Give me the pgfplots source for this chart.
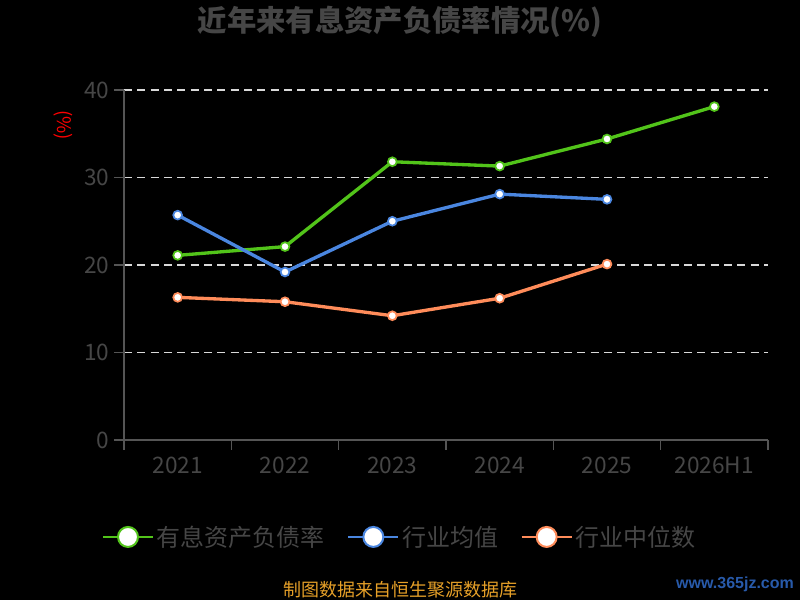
\documentclass[border=0pt]{standalone}
\usepackage{fontspec}
\setmainfont{Noto Sans CJK SC}
\newfontfamily\wmfont{Liberation Sans}
\usepackage{pgfplots}
\pgfplotsset{compat=1.18}
\definecolor{grn}{RGB}{82,196,26}
\definecolor{blu}{RGB}{74,134,224}
\definecolor{org}{RGB}{255,140,90}
\definecolor{txt}{RGB}{70,70,70}
\definecolor{axl}{RGB}{85,85,85}
\definecolor{foot}{RGB}{230,160,40}
\definecolor{wm}{RGB}{40,90,170}
\begin{document}
\begin{tikzpicture}
\fill[black] (0pt,0pt) rectangle (600pt,450pt);
\node[txt, font=\bfseries\fontsize{22}{26}\selectfont] at (300pt,433.5pt) {近年来有息资产负债率情况(\%)};
\node[red, rotate=-90, font=\fontsize{14}{16}\selectfont] at (47.25pt,356.25pt) {(\%)};
\node[foot, font=\fontsize{13.5}{16}\selectfont] at (300pt,7.5pt) {制图数据来自恒生聚源数据库};
\node[wm, font=\wmfont\bfseries\fontsize{12}{14}\selectfont] at (551.25pt,12pt) {www.365jz.com};
\begin{axis}[
  at={(93pt,120pt)}, anchor=south west,
  scale only axis, width=483pt, height=262.5pt,
  xmin=-0.5, xmax=5.5, ymin=0, ymax=40,
  xtick={-0.5,0.5,1.5,2.5,3.5,4.5,5.5},
  xticklabels={2021,2022,2023,2024,2025,2026H1},
  x tick label as interval,
  ytick={0,10,20,30,40},
  axis lines*=left,
  axis line style={axl, line width=1.5pt},
  tick align=outside,
  major tick length=7.5pt,
  tick style={axl, line width=1.2pt},
  xtick pos=bottom, ytick pos=left,
  ymajorgrids,
  major grid style={dash pattern=on 6pt off 4pt, color=white!85!black, line width=1pt},
  /pgf/number format/assume math mode=true,
  ticklabel style={txt, font=\fontsize{17}{19}\selectfont},
  xticklabel style={yshift=-2pt},
  legend style={draw=none, fill=none, text=txt, font=\fontsize{18}{20}\selectfont,
    at={(0.4286,-0.277)}, anchor=center, legend columns=-1,
    /tikz/every even column/.append style={column sep=15pt}},
  legend image code/.code={
    \draw[line width=1.5pt] (0pt,0pt) -- (37.5pt,0pt);
    \draw[fill=white, line width=1.5pt] (18.75pt,0pt) circle (7.5pt);
  },
]
\addplot[grn, line width=2.5pt, mark=*, mark size=3.3pt, mark options={fill=white, draw=grn, line width=1.3pt, solid}]
  coordinates {(0,21.1)(1,22.1)(2,31.8)(3,31.3)(4,34.4)(5,38.1)};
\addlegendentry{有息资产负债率}
\addplot[blu, line width=2.5pt, mark=*, mark size=3.3pt, mark options={fill=white, draw=blu, line width=1.3pt}]
  coordinates {(0,25.7)(1,19.2)(2,25.0)(3,28.1)(4,27.5)};
\addlegendentry{行业均值}
\addplot[org, line width=2.5pt, mark=*, mark size=3.3pt, mark options={fill=white, draw=org, line width=1.3pt}]
  coordinates {(0,16.3)(1,15.8)(2,14.2)(3,16.2)(4,20.1)};
\addlegendentry{行业中位数}
\end{axis}
\end{tikzpicture}
\end{document}
